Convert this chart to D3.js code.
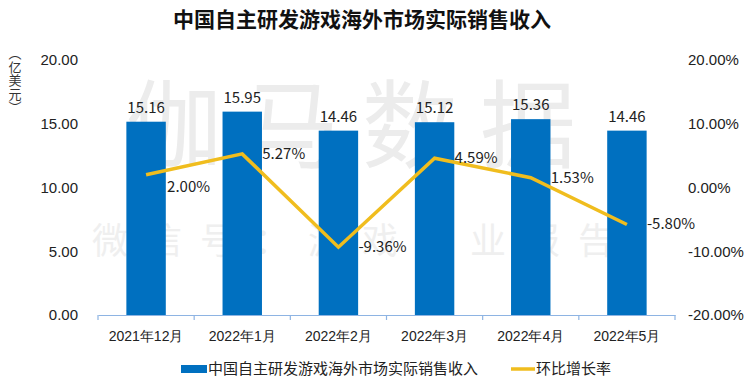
<!DOCTYPE html>
<html>
<head>
<meta charset="utf-8">
<script src="https://cdn.jsdelivr.net/npm/d3@7"></script>
<style>
  body { margin: 0; background: #fff; }
  svg { font-family: "Noto Sans CJK SC", "Noto Sans", sans-serif; }
</style>
</head>
<body>
<div id="chart"></div>
<script>
const months = ['2021年12月', '2022年1月', '2022年2月', '2022年3月', '2022年4月', '2022年5月'];
const revenue = [15.16, 15.95, 14.46, 15.12, 15.36, 14.46];
const growth = [2.00, 5.27, -9.36, 4.59, 1.53, -5.80];
const leftTicks = [0, 5, 10, 15, 20];
const rightTicks = [-20, -10, 0, 10, 20];
const unitChars = ['︵', '亿', '美', '元', '︶'];

const width = 750, height = 391;
const margin = { top: 60, right: 75, bottom: 76, left: 98 };

const svg = d3.select('#chart').append('svg')
    .attr('width', width)
    .attr('height', height);

const x = d3.scaleBand()
    .domain(months)
    .range([margin.left, width - margin.right])
    .paddingInner(0.59)
    .paddingOuter(0.295);

const y = d3.scaleLinear().domain([0, 20]).range([height - margin.bottom, margin.top]);
const y2 = d3.scaleLinear().domain([-20, 20]).range([height - margin.bottom, margin.top]);

// watermark
svg.append('text')
    .attr('x', 362).attr('y', 160)
    .attr('text-anchor', 'middle')
    .attr('font-size', 96)
    .attr('letter-spacing', 22)
    .attr('fill', '#ececec')
    .text('伽马数据');
svg.append('text')
    .attr('x', 362).attr('y', 254)
    .attr('text-anchor', 'middle')
    .attr('font-size', 36)
    .attr('letter-spacing', 18)
    .attr('fill', '#efefef')
    .text('微信号：游戏产业报告');

// title
svg.append('text')
    .attr('x', 362).attr('y', 27)
    .attr('text-anchor', 'middle')
    .attr('font-size', 21)
    .attr('font-weight', 'bold')
    .attr('fill', '#111')
    .text('中国自主研发游戏海外市场实际销售收入');

// axis unit, stacked vertically
svg.append('g').selectAll('text')
    .data(unitChars)
    .join('text')
    .attr('x', 15)
    .attr('y', (d, i) => 58 + i * 13.5)
    .attr('text-anchor', 'middle')
    .attr('font-size', 13)
    .attr('fill', '#333')
    .text(d => d);

// left axis
const leftAxis = d3.axisLeft(y).tickValues(leftTicks).tickFormat(d3.format('.2f')).tickSize(0).tickPadding(20);
svg.append('g')
    .attr('transform', `translate(${margin.left},0)`)
    .call(leftAxis)
    .call(g => g.select('.domain').remove())
    .call(g => g.selectAll('text').attr('font-size', 15).attr('fill', '#222').attr('font-family', null));

// right axis
const rightAxis = d3.axisRight(y2).tickValues(rightTicks).tickFormat(d => d.toFixed(2) + '%').tickSize(0).tickPadding(13);
svg.append('g')
    .attr('transform', `translate(${width - margin.right},0)`)
    .call(rightAxis)
    .call(g => g.select('.domain').remove())
    .call(g => g.selectAll('text').attr('font-size', 15).attr('fill', '#222').attr('font-family', null));

// bars
svg.append('g').selectAll('rect')
    .data(revenue)
    .join('rect')
    .attr('x', (d, i) => x(months[i]))
    .attr('y', d => y(d))
    .attr('width', x.bandwidth())
    .attr('height', d => y(0) - y(d))
    .attr('fill', '#0070c0');

svg.append('g').selectAll('text')
    .data(revenue)
    .join('text')
    .attr('x', (d, i) => x(months[i]) + x.bandwidth() / 2)
    .attr('y', d => y(d) - 9)
    .attr('text-anchor', 'middle')
    .attr('font-size', 15)
    .attr('fill', '#222')
    .text(d => d.toFixed(2));

// x axis
const xAxis = d3.axisBottom(x).tickSize(0).tickPadding(16);
const xg = svg.append('g')
    .attr('transform', `translate(0,${y(0)})`)
    .call(xAxis);
xg.select('.domain').attr('stroke', '#8eb4e3').attr('stroke-width', 1.2);
xg.selectAll('text').attr('font-size', 14).attr('fill', '#222').attr('font-family', null);
const step = x.step();
xg.selectAll('line.sep')
    .data(d3.range(months.length + 1))
    .join('line')
    .attr('class', 'sep')
    .attr('x1', i => margin.left + i * step)
    .attr('x2', i => margin.left + i * step)
    .attr('y1', 0).attr('y2', 5)
    .attr('stroke', '#8eb4e3')
    .attr('stroke-width', 1.2);

// growth line
const line = d3.line()
    .x((d, i) => x(months[i]) + x.bandwidth() / 2)
    .y(d => y2(d));

svg.append('path')
    .datum(growth)
    .attr('d', line)
    .attr('fill', 'none')
    .attr('stroke', '#f0bd1e')
    .attr('stroke-width', 3.5)
    .attr('stroke-linejoin', 'miter');

svg.append('g').selectAll('text')
    .data(growth)
    .join('text')
    .attr('x', (d, i) => x(months[i]) + x.bandwidth() / 2 + (i === 0 ? 21 : 20))
    .attr('y', (d, i) => y2(d) + (i === 0 ? 17 : 5))
    .attr('font-size', 15)
    .attr('fill', '#222')
    .text(d => d.toFixed(2) + '%');

// legend
const legend = svg.append('g').attr('transform', 'translate(0,369)');
legend.append('rect')
    .attr('x', 181).attr('y', -4)
    .attr('width', 26).attr('height', 8)
    .attr('fill', '#0070c0');
legend.append('text')
    .attr('x', 208).attr('y', 5)
    .attr('font-size', 15)
    .attr('fill', '#222')
    .text('中国自主研发游戏海外市场实际销售收入');
legend.append('line')
    .attr('x1', 511).attr('x2', 535)
    .attr('y1', 0).attr('y2', 0)
    .attr('stroke', '#f0bd1e')
    .attr('stroke-width', 3.5);
legend.append('text')
    .attr('x', 536).attr('y', 5)
    .attr('font-size', 15)
    .attr('fill', '#222')
    .text('环比增长率');
</script>
</body>
</html>
